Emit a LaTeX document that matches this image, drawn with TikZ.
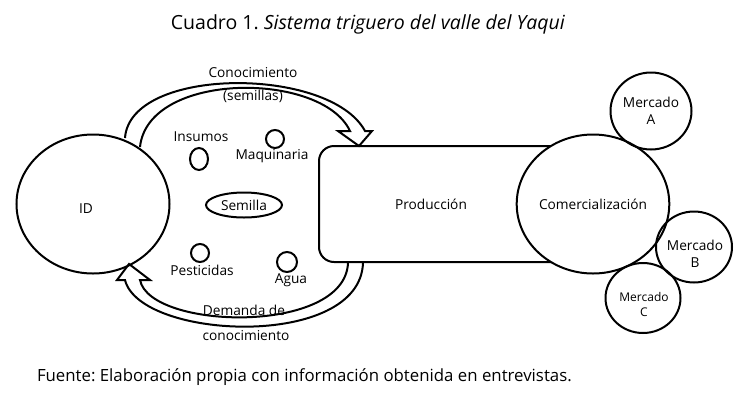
\documentclass[tikz,border=0pt]{standalone}
\usepackage{fontspec}
\setmainfont{Open Sans}
\usetikzlibrary{shapes.geometric}
\frenchspacing

\begin{document}
\begin{tikzpicture}[x=1pt,y=-1pt,line width=2pt]
            \tikzset{every node/.style={inner sep=0pt,font=\fontsize{13.7}{16.5}\selectfont}}
            \tikzset{bubble/.style={draw,ellipse,align=center}}
            \useasboundingbox (0,0) rectangle (753,400);
            \node (title) at (368,24) {\fontsize{19.5}{22}\selectfont Cuadro 1. \textit{Sistema triguero del valle del Yaqui}};
            \node [anchor=west] (fuente) at (36,377) {\fontsize{16.8}{19}\selectfont Fuente: Elaboración propia con información obtenida en entrevistas.};
            \node [draw,rounded corners=15pt,minimum width=290,minimum height=116,anchor=west] (prod) at (318,204) {};
            \node (prodtxt) at (431,204) {Producción};
            \node [bubble,minimum width=153,minimum height=139] (id) at (93,204) {};
            \node (idtxt) at (86,209) {ID};
            \node [bubble,fill=white,minimum width=149,minimum height=139] (com) at (593,204) {Comercialización};
            \node [bubble,minimum width=81,minimum height=77] (mA) at (651,111) {Mercado\\A};
            \node [bubble,minimum width=76,minimum height=71] (mB) at (694,247) {};
            \node [align=center] (mBtxt) at (695,254) {Mercado\\B};
            \node [bubble,minimum width=75,minimum height=70] (mC) at (643,298) {};
            \node [align=center,font=\fontsize{12}{15}\selectfont] (mCtxt) at (644,304) {Mercado\\C};
            \node [bubble,minimum width=18,minimum height=22] (ins) at (199,159) {};
            \node (instxt) at (201,137) {Insumos};
            \node [bubble,minimum width=18,minimum height=18] (maq) at (275,139) {};
            \node (maqtxt) at (272,156) {Maquinaria};
            \node [bubble,minimum width=76,minimum height=25] (sem) at (244,205) {Semilla};
            \node [bubble,minimum width=18,minimum height=18] (pes) at (200,253) {};
            \node (pestxt) at (202,270) {Pesticidas};
            \node [bubble,minimum width=20,minimum height=20] (agu) at (287,262) {};
            \node (agutxt) at (291,280) {Agua};
            \node (con1) at (253,73) {Conocimiento};
            \node (con2) at (253,96) {(semillas)};
            \node (dem1) at (244,310) {Demanda de};
            \node (dem2) at (246,336) {conocimiento};
            \coordinate (a1) at (125,138);
            \coordinate (a2) at (140,147);
            \coordinate (a3) at (350,131);
            \coordinate (a4) at (365,131);
            \coordinate (b1) at (348,263);
            \coordinate (b2) at (363,263);
            \coordinate (b3) at (140,280);
            \coordinate (b4) at (125,280);
            \draw [line join=miter] (a2) .. controls (148,71) and (322,71) .. (a3) -- (338,131) -- (359,146) -- (372,131) -- (a4) .. controls (330,66) and (130,66) .. (a1);
            \draw [line join=miter] (b1) .. controls (345,335) and (150,330) .. (b3) -- (150,280) -- (129,264) -- (117,280) -- (b4) .. controls (140,340) and (360,350) .. (b2);
        \end{tikzpicture}
\end{document}
